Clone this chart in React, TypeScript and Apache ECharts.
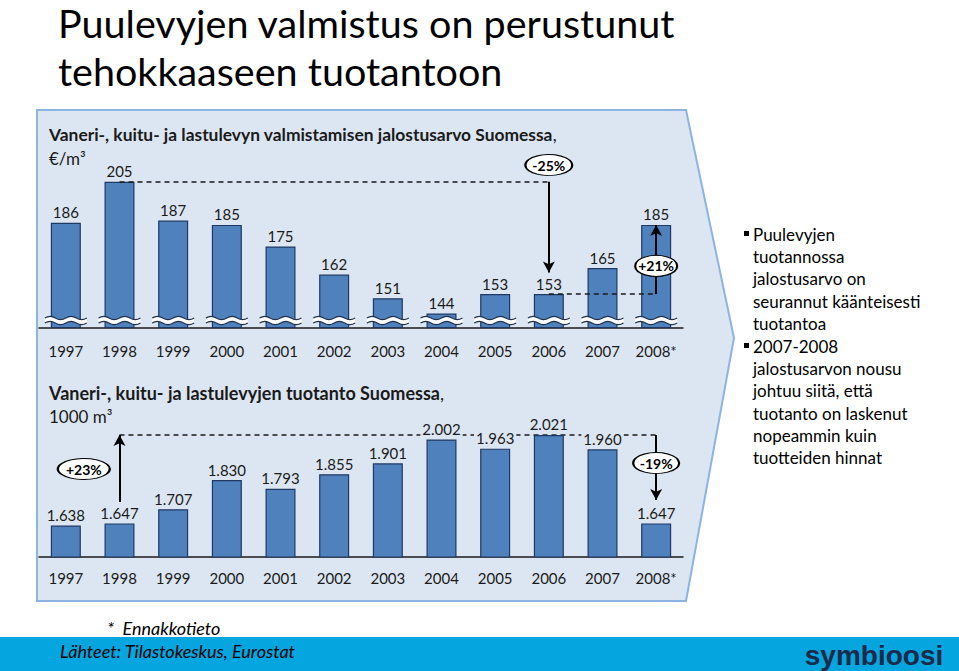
import React, { useEffect, useRef } from "react";
import * as echarts from "echarts";

// ---- data ----
const years = ["1997", "1998", "1999", "2000", "2001", "2002", "2003", "2004", "2005", "2006", "2007", "2008*"];
const valueAdded = [186, 205, 187, 185, 175, 162, 151, 144, 153, 153, 165, 185]; // €/m3
const production = [1638, 1647, 1707, 1830, 1793, 1855, 1901, 2002, 1963, 2021, 1960, 1647]; // 1000 m3

// axis ranges (value axes are hidden, broken at the bottom)
const TOP_MIN = 137.5;
const TOP_MAX = 220;
const BOT_MIN = 1505;
const BOT_MAX = 2200;

// annotations (change labels)
const topChangeLabels = ["-25%", "+21%"];
const bottomChangeLabels = ["+23%", "-19%"];

const titleLines = ["Puulevyjen valmistus on perustunut", "tehokkaaseen tuotantoon"];
const bullet1 = ["Puulevyjen", "tuotannossa", "jalostusarvo on", "seurannut käänteisesti", "tuotantoa"];
const bullet2 = ["2007-2008", "jalostusarvon nousu", "johtuu siitä, että", "tuotanto on laskenut", "nopeammin kuin", "tuotteiden hinnat"];

const FONT = "Lato, 'Open Sans', sans-serif";
const INK = "#1a1a1a";
const PANEL = "#dce6f2";

function wavePaths(cx: number, cy: number, half: number, amp: number, gap: number, n: number) {
  const seg = (2 * half) / n;
  const x0 = cx - half;
  const sign = (k: number) => (k % 2 === 0 ? -1 : 1);
  let top = `M${x0},${cy}`;
  for (let k = 0; k < n; k++) {
    top += ` Q${x0 + seg * k + seg / 2},${cy + sign(k) * amp * 2} ${x0 + seg * (k + 1)},${cy}`;
  }
  let bottom = `M${x0},${cy + gap}`;
  for (let k = 0; k < n; k++) {
    bottom += ` Q${x0 + seg * k + seg / 2},${cy + gap + sign(k) * amp * 2} ${x0 + seg * (k + 1)},${cy + gap}`;
  }
  let fill = top + ` L${x0 + 2 * half},${cy + gap}`;
  for (let k = n - 1; k >= 0; k--) {
    fill += ` Q${x0 + seg * k + seg / 2},${cy + gap + sign(k) * amp * 2} ${x0 + seg * k},${cy + gap}`;
  }
  fill += " Z";
  return { top, bottom, fill };
}

export default function App() {
  const ref = useRef<HTMLDivElement>(null);

  useEffect(() => {
    if (!ref.current) return;
    document.body.style.margin = "0";
    const chart = echarts.init(ref.current, undefined, { renderer: "svg" });

    const iMax = valueAdded.indexOf(Math.max(...valueAdded));
    const iLast = years.length - 1;
    const iLow = 9; // 2006
    const iProdMax = production.indexOf(Math.max(...production));
    const prodPeak = production[iProdMax];

    const labelCommon = {
      show: true,
      position: "top",
      distance: 3,
      fontSize: 15,
      color: INK,
      fontFamily: FONT,
    };

    const barStyle = { color: "#4f81bd", borderColor: "#1f3864", borderWidth: 1.2 };

    const dashed = { type: [5, 4], color: INK, width: 1.5 };
    const solid = { type: "solid", color: "#000", width: 2 };

    const ellipse = {
      symbol: "circle",
      symbolSize: [46, 21],
      itemStyle: { color: "#fff", borderColor: "#000", borderWidth: 1.5 },
      label: { show: true, formatter: "{b}", fontSize: 14, fontWeight: "bold", color: "#000", fontFamily: FONT },
    };

    const bulletText = (lines: string[]) => lines.join("\n");

    const subRich = (size: number) => ({
      b: { fontSize: size, fontWeight: "bold", fontFamily: FONT, fill: INK, color: INK },
      n: { fontSize: size, fontFamily: FONT, fill: INK, color: INK },
    });

    const graphic: any[] = [
      {
        type: "polygon",
        z: -10,
        shape: { points: [[37, 110], [686, 110], [734, 338], [686, 601], [37, 601]] },
        style: { fill: PANEL, stroke: "#8db3e2", lineWidth: 2 },
      },
      {
        type: "text",
        x: 58,
        y: 22,
        style: { text: titleLines[0], font: `39.5px ${FONT}`, fill: "#000", verticalAlign: "middle" },
      },
      {
        type: "text",
        x: 58,
        y: 70,
        style: { text: titleLines[1], font: `39.5px ${FONT}`, fill: "#000", verticalAlign: "middle" },
      },
      {
        type: "text",
        x: 49,
        y: 134,
        style: {
          text: "{b|Vaneri-, kuitu- ja lastulevyn valmistamisen jalostusarvo Suomessa}{n|,}",
          verticalAlign: "middle",
          rich: subRich(17.4),
        },
      },
      {
        type: "text",
        x: 49,
        y: 158,
        style: { text: "€/m³", font: `17px ${FONT}`, fill: INK, verticalAlign: "middle" },
      },
      {
        type: "text",
        x: 49,
        y: 393,
        style: {
          text: "{b|Vaneri-, kuitu- ja lastulevyjen tuotanto Suomessa}{n|,}",
          verticalAlign: "middle",
          rich: subRich(18),
        },
      },
      {
        type: "text",
        x: 49,
        y: 416,
        style: { text: "1000 m³", font: `17px ${FONT}`, fill: INK, verticalAlign: "middle" },
      },
      { type: "rect", shape: { x: 744, y: 231, width: 5, height: 5 }, style: { fill: "#000" } },
      {
        type: "text",
        x: 753,
        y: 223,
        style: { text: bulletText(bullet1), font: `17px ${FONT}`, fill: "#000", lineHeight: 22.3 },
      },
      { type: "rect", shape: { x: 744, y: 343, width: 5, height: 5 }, style: { fill: "#000" } },
      {
        type: "text",
        x: 753,
        y: 335,
        style: { text: bulletText(bullet2), font: `17px ${FONT}`, fill: "#000", lineHeight: 22.3 },
      },
      { type: "rect", shape: { x: 0, y: 637, width: 959, height: 34 }, style: { fill: "#05a5df" } },
      {
        type: "text",
        x: 107,
        y: 628,
        style: { text: "*  Ennakkotieto", font: `italic 18px ${FONT}`, fill: "#000", verticalAlign: "middle" },
      },
      {
        type: "text",
        x: 60,
        y: 651,
        style: { text: "Lähteet: Tilastokeskus, Eurostat", font: `italic 18px ${FONT}`, fill: "#000", verticalAlign: "middle" },
      },
      {
        type: "text",
        x: 874,
        y: 655,
        style: {
          text: "symbioosi",
          font: `bold 28px 'Liberation Sans', sans-serif`,
          fill: "#1b2a49",
          align: "center",
          verticalAlign: "middle",
        },
      },
    ];

    const option: any = {
      animation: false,
      backgroundColor: "#ffffff",
      graphic,
      grid: [
        { left: 39, right: 276, top: 149.3, bottom: 343.5 },
        { left: 39, right: 276, top: 392.6, bottom: 114 },
      ],
      xAxis: [
        {
          gridIndex: 0,
          type: "category",
          data: years,
          axisTick: { show: false },
          axisLine: { lineStyle: { color: INK, width: 1.5 } },
          axisLabel: { margin: 16, fontSize: 15, color: INK, fontFamily: FONT, interval: 0 },
        },
        {
          gridIndex: 1,
          type: "category",
          data: years,
          axisTick: { show: false },
          axisLine: { lineStyle: { color: INK, width: 1.5 } },
          axisLabel: { margin: 13, fontSize: 15, color: INK, fontFamily: FONT, interval: 0 },
        },
      ],
      yAxis: [
        { gridIndex: 0, type: "value", min: TOP_MIN, max: TOP_MAX, show: false },
        { gridIndex: 1, type: "value", min: BOT_MIN, max: BOT_MAX, show: false },
      ],
      series: [
        {
          type: "bar",
          xAxisIndex: 0,
          yAxisIndex: 0,
          data: valueAdded,
          barWidth: 30,
          itemStyle: barStyle,
          label: labelCommon,
          markLine: {
            silent: true,
            z: 5,
            symbolSize: [9, 11],
            label: { show: false },
            data: [
              [
                { coord: [years[iMax], valueAdded[iMax]], symbol: "none", lineStyle: dashed },
                { coord: [years[iLow], valueAdded[iMax]], symbol: "none" },
              ],
              [
                { coord: [years[iLow], valueAdded[iMax]], symbol: "none", lineStyle: solid },
                { coord: [years[iLow], valueAdded[iLow] + 10], symbol: "arrow" },
              ],
              [
                { coord: [years[iLow], valueAdded[iLow]], symbol: "none", lineStyle: dashed },
                { coord: [years[iLast], valueAdded[iLow]], symbol: "none" },
              ],
              [
                { coord: [years[iLast], valueAdded[iLow]], symbol: "none", lineStyle: solid },
                { coord: [years[iLast], valueAdded[iLast]], symbol: "arrow" },
              ],
            ],
          },
          markPoint: {
            z: 6,
            silent: true,
            ...ellipse,
            data: [
              { name: topChangeLabels[0], coord: [years[iLow], 212.7], symbolSize: [47, 21] },
              { name: topChangeLabels[1], coord: [years[iLast], 166], symbolSize: [42, 21] },
            ],
          },
        },
        {
          type: "custom",
          xAxisIndex: 0,
          yAxisIndex: 0,
          z: 3,
          clip: false,
          silent: true,
          data: years.map((y) => [y, TOP_MIN]),
          renderItem: (params: any, api: any) => {
            const p = api.coord([api.value(0), api.value(1)]);
            const w = wavePaths(p[0], p[1] - 9.5, 21, 1.6, 5, 4);
            return {
              type: "group",
              children: [
                { type: "path", shape: { pathData: w.fill }, style: { fill: "#ffffff", stroke: null } },
                { type: "path", shape: { pathData: w.top }, style: { fill: null, stroke: "#1f2f4a", lineWidth: 1.1 } },
                { type: "path", shape: { pathData: w.bottom }, style: { fill: null, stroke: "#1f2f4a", lineWidth: 1.1 } },
              ],
            };
          },
        },
        {
          type: "bar",
          xAxisIndex: 1,
          yAxisIndex: 1,
          data: production,
          barWidth: 30,
          itemStyle: barStyle,
          label: {
            ...labelCommon,
            backgroundColor: PANEL,
            padding: [0, 2],
            formatter: (p: any) => (p.value / 1000).toFixed(3),
          },
          markLine: {
            silent: true,
            z: 1,
            symbolSize: [9, 11],
            label: { show: false },
            data: [
              [
                { coord: [years[1], prodPeak], symbol: "none", lineStyle: dashed },
                { coord: [years[iLast], prodPeak], symbol: "none" },
              ],
            ],
          },
        },
        {
          type: "line",
          xAxisIndex: 1,
          yAxisIndex: 1,
          data: [],
          silent: true,
          markLine: {
            silent: true,
            z: 5,
            symbolSize: [9, 11],
            label: { show: false },
            data: [
              [
                { coord: [years[1], 1738], symbol: "none", lineStyle: solid },
                { coord: [years[1], prodPeak], symbol: "arrow" },
              ],
              [
                { coord: [years[iLast], prodPeak], symbol: "none", lineStyle: solid },
                { coord: [years[iLast], 1746], symbol: "arrow" },
              ],
            ],
          },
          markPoint: {
            z: 6,
            silent: true,
            ...ellipse,
            data: [
              { name: bottomChangeLabels[0], coord: [years[0], 1877], symbolSize: [52, 21], symbolOffset: [18, 0] },
              { name: bottomChangeLabels[1], coord: [years[iLast], 1902], symbolSize: [46, 21] },
            ],
          },
        },
      ],
    };

    chart.setOption(option);
    return () => chart.dispose();
  }, []);

  return (
    <div
      ref={ref}
      style={{ position: "fixed", left: 0, top: 0, width: 959, height: 671 }}
    />
  );
}
